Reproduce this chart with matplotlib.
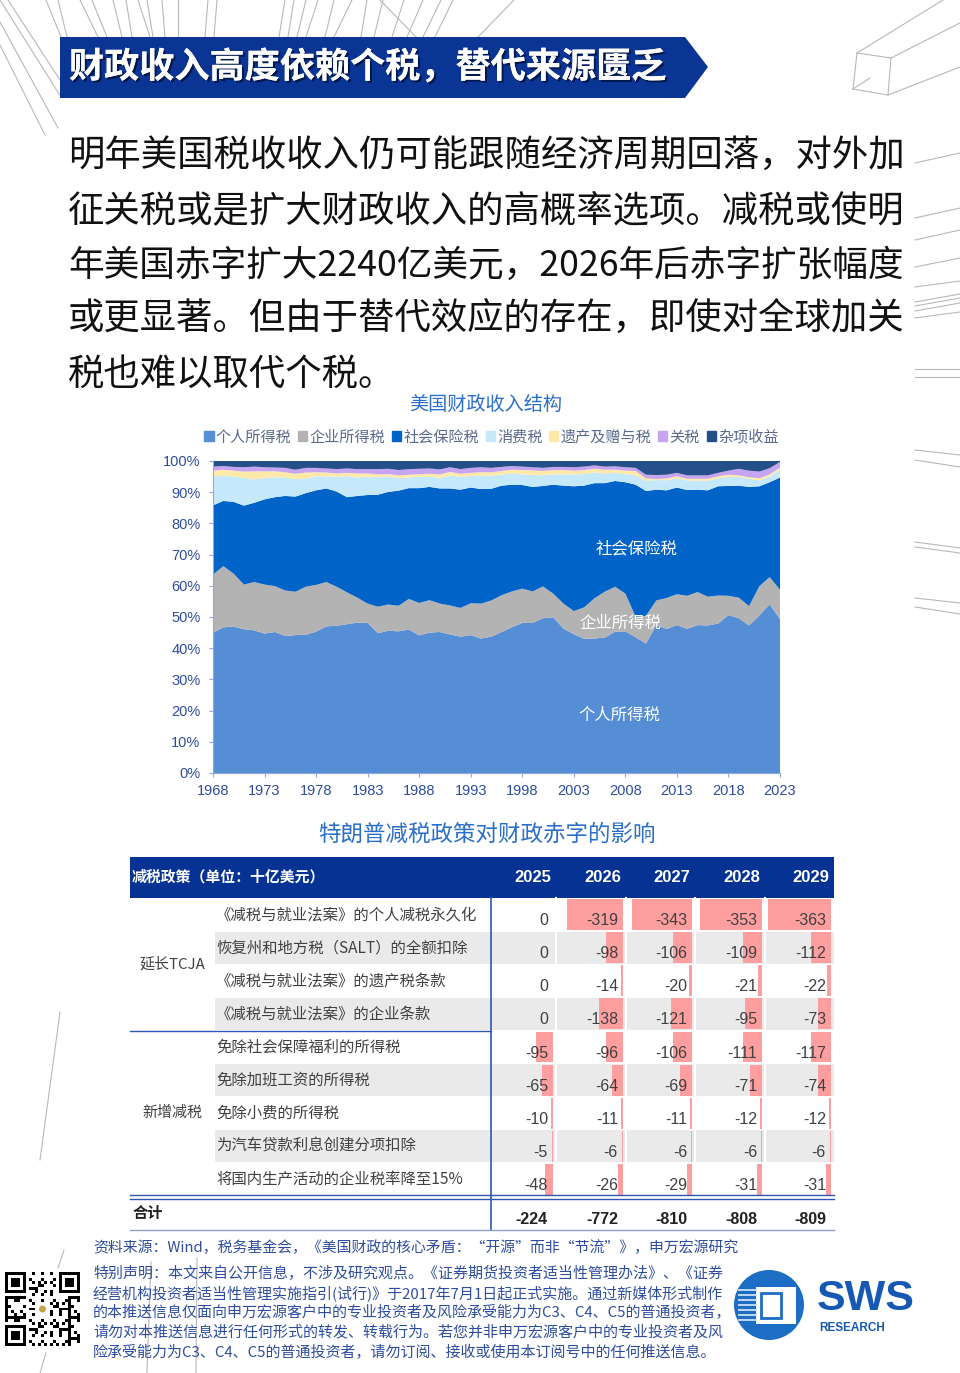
import numpy as np
import matplotlib
matplotlib.use('Agg')
import matplotlib.pyplot as plt
import matplotlib.patches as mpatches
import matplotlib.patheffects as pe
from matplotlib import font_manager

plt.rcParams['font.family'] = ['Noto Sans CJK SC', 'DejaVu Sans']

_names = {f.name for f in font_manager.fontManager.ttflist}
NUM_FONT = 'Liberation Sans Narrow' if 'Liberation Sans Narrow' in _names else 'Liberation Sans'
NUM_SIZE = 14 if NUM_FONT == 'Liberation Sans Narrow' else 11.5

# ---------------- chart data: share of federal receipts (%) ----------------
years = np.arange(1968, 2024)
individual = [44.9, 46.7, 46.9, 46.1, 45.7, 44.7, 45.2, 43.9, 44.2, 44.3,
              45.3, 47.0, 47.2, 47.7, 48.2, 48.1, 44.8, 45.6, 45.4, 46.0,
              44.1, 45.0, 45.2, 44.4, 43.7, 44.2, 43.1, 43.7, 45.2, 46.7,
              48.1, 48.1, 49.6, 49.9, 46.3, 44.5, 43.0, 43.1, 43.4, 45.3,
              45.4, 43.5, 41.5, 47.4, 46.2, 47.4, 46.2, 47.4, 47.3, 47.9,
              50.6, 49.6, 47.3, 50.5, 54.1, 49.3]
corporate = [18.7, 19.6, 17.0, 14.3, 15.5, 15.7, 14.7, 14.6, 13.9, 15.4,
             15.0, 14.2, 12.5, 10.2, 8.0, 6.2, 8.5, 8.4, 8.2, 9.8,
             10.4, 10.4, 9.1, 9.3, 9.2, 10.2, 11.2, 11.6, 11.8, 11.5,
             11.0, 10.1, 10.2, 7.6, 8.0, 7.4, 10.1, 12.9, 14.7, 14.4,
             12.1, 6.6, 8.9, 7.9, 9.9, 9.9, 10.6, 10.6, 9.2, 9.0,
             6.2, 6.6, 6.2, 9.4, 8.7, 9.4]
social = [22.2, 20.9, 23.0, 25.3, 25.4, 27.3, 28.5, 30.3, 30.5, 30.0,
          30.3, 30.0, 30.5, 30.5, 32.6, 34.8, 35.9, 36.1, 36.9, 35.5,
          36.8, 36.3, 36.9, 37.5, 37.9, 37.1, 36.7, 35.8, 35.1, 34.2,
          33.2, 33.5, 32.2, 34.9, 37.8, 40.0, 39.0, 36.9, 34.8, 33.9,
          35.7, 42.3, 40.0, 35.5, 34.5, 34.2, 33.9, 32.8, 34.1, 35.0,
          35.2, 35.9, 38.2, 32.0, 30.4, 36.0]
excise = [9.2, 8.1, 8.1, 8.9, 7.5, 6.9, 6.4, 5.9, 5.6, 4.6,
          4.5, 3.9, 4.7, 6.8, 5.9, 5.9, 5.6, 4.9, 4.0, 3.4,
          3.7, 3.3, 3.4, 4.2, 4.1, 3.7, 4.3, 4.2, 3.6, 3.6,
          3.4, 3.8, 3.4, 3.3, 3.6, 3.8, 3.7, 3.4, 3.1, 2.6,
          2.6, 3.0, 3.2, 3.1, 3.2, 3.0, 3.0, 2.9, 3.1, 2.5,
          2.9, 2.8, 2.6, 1.9, 1.8, 2.5]
estate = [1.9, 1.9, 1.9, 2.0, 2.6, 2.1, 1.9, 1.7, 1.7, 2.0,
          1.3, 1.2, 1.1, 1.0, 1.3, 1.0, 0.9, 0.8, 0.9, 0.9,
          0.8, 0.9, 1.1, 1.1, 1.0, 1.0, 1.1, 1.1, 1.1, 1.2,
          1.4, 1.5, 1.4, 1.4, 1.4, 1.2, 1.3, 1.2, 1.2, 1.0,
          1.1, 1.4, 0.8, 0.3, 0.6, 0.6, 0.6, 0.6, 0.6, 0.7,
          0.7, 0.5, 0.5, 0.7, 0.7, 0.7]
customs = [1.3, 1.2, 1.2, 1.4, 1.5, 1.3, 1.2, 1.4, 1.3, 1.5,
           1.4, 1.3, 1.4, 1.4, 1.4, 1.4, 1.7, 1.7, 1.7, 1.8,
           1.7, 1.7, 1.6, 1.5, 1.5, 1.6, 1.6, 1.4, 1.3, 1.2,
           1.1, 1.0, 1.0, 1.0, 1.0, 1.1, 1.1, 1.1, 1.0, 1.1,
           1.1, 1.0, 1.2, 1.3, 1.2, 1.1, 1.1, 1.1, 1.1, 1.1,
           1.3, 2.1, 2.1, 2.1, 2.0, 1.8]
misc = [1.8, 1.6, 1.9, 2.0, 1.8, 2.0, 2.1, 2.2, 2.8, 2.2,
        2.2, 2.4, 2.6, 2.4, 2.6, 2.6, 2.6, 2.5, 2.9, 2.6,
        2.5, 2.4, 2.7, 2.0, 2.6, 2.2, 2.0, 2.2, 1.9, 1.6,
        1.8, 2.0, 2.2, 1.9, 1.9, 2.0, 1.8, 1.4, 1.8, 1.7,
        2.0, 2.2, 4.4, 4.5, 4.4, 3.8, 4.6, 4.6, 4.6, 3.8,
        3.1, 2.5, 3.1, 3.4, 2.3, 0.3]
series_names = ['个人所得税', '企业所得税', '社会保险税', '消费税', '遗产及赠与税', '关税', '杂项收益']
series_colors = ['#558ED5', '#B3B3B3', '#0063C8', '#C5E9FB', '#FFE9A8', '#C7A5F3', '#254F88']

# ---------------- table data (十亿美元) ----------------
policy_years = ['2025', '2026', '2027', '2028', '2029']
row_labels = ['《减税与就业法案》的个人减税永久化',
              '恢复州和地方税（SALT）的全额扣除',
              '《减税与就业法案》的遗产税条款',
              '《减税与就业法案》的企业条款',
              '免除社会保障福利的所得税',
              '免除加班工资的所得税',
              '免除小费的所得税',
              '为汽车贷款利息创建分项扣除',
              '将国内生产活动的企业税率降至15%']
cut_2025 = [0, 0, 0, 0, -95, -65, -10, -5, -48]
cut_2026 = [-319, -98, -14, -138, -96, -64, -11, -6, -26]
cut_2027 = [-343, -106, -20, -121, -106, -69, -11, -6, -29]
cut_2028 = [-353, -109, -21, -95, -111, -71, -12, -6, -31]
cut_2029 = [-363, -112, -22, -73, -117, -74, -12, -6, -31]
totals = [-224, -772, -810, -808, -809]
cuts = [cut_2025, cut_2026, cut_2027, cut_2028, cut_2029]

body_lines = ['明年美国税收收入仍可能跟随经济周期回落，对外加',
              '征关税或是扩大财政收入的高概率选项。减税或使明',
              '年美国赤字扩大2240亿美元，2026年后赤字扩张幅度',
              '或更显著。但由于替代效应的存在，即使对全球加关',
              '税也难以取代个税。']
body_sizes = [26.2, 26.2, 25.7, 26.2, 26.2]
footer_lines = ['特别声明：本文来自公开信息，不涉及研究观点。《证券期货投资者适当性管理办法》、《证券',
                '经营机构投资者适当性管理实施指引(试行)》于2017年7月1日起正式实施。通过新媒体形式制作',
                '的本推送信息仅面向申万宏源客户中的专业投资者及风险承受能力为C3、C4、C5的普通投资者，',
                '请勿对本推送信息进行任何形式的转发、转载行为。若您并非申万宏源客户中的专业投资者及风',
                '险承受能力为C3、C4、C5的普通投资者，请勿订阅、接收或使用本订阅号中的任何推送信息。']

W, H = 960, 1373
fig = plt.figure(figsize=(9.6, 13.73), dpi=100)


def box(l, t, r, b):
    return [l / W, 1 - b / H, (r - l) / W, (b - t) / H]


bg = fig.add_axes([0, 0, 1, 1])
bg.set_xlim(0, W)
bg.set_ylim(H, 0)
bg.axis('off')

# decorative sketch lines
deco = [((0, 22), (58, 128)), ((0, 0), (61, 97)), ((8, 0), (60, 80)), ((0, 45), (45, 135)),
        ((46, 0), (61, 37)), ((58, 0), (67, 37)), ((80, 0), (98, 37)), ((92, 0), (107, 37)),
        ((113, 0), (122, 37)), ((126, 0), (132, 37)), ((138, 0), (150, 37)), ((147, 0), (153, 37)),
        ((162, 0), (165, 37)), ((178, 0), (178, 37)), ((208, 0), (205, 37)), ((217, 0), (214, 37)),
        ((285, 0), (279, 37)), ((294, 0), (288, 37)), ((306, 0), (297, 37)), ((318, 0), (306, 37)),
        ((334, 0), (325, 37)), ((352, 0), (334, 37)), ((367, 0), (361, 37)), ((383, 0), (374, 37)),
        ((380, 0), (416, 37)), ((404, 0), (392, 37)), ((423, 0), (407, 37)), ((441, 0), (423, 37)),
        ((453, 0), (435, 37)), ((514, 0), (478, 37)),
        ((857, 53), (891, 58)), ((891, 58), (888, 95)), ((888, 95), (853, 89)), ((853, 89), (857, 53)),
        ((857, 53), (943, 0)), ((891, 58), (960, 23)), ((888, 95), (960, 67)), ((853, 89), (870, 78)),
        ((915, 163), (960, 153)), ((915, 218), (960, 208)), ((915, 240), (960, 230)),
        ((915, 267), (960, 258)), ((915, 287), (960, 281)), ((915, 302), (960, 294)),
        ((915, 306), (960, 298)), ((915, 311), (960, 303)), ((915, 318), (960, 312)),
        ((915, 369), (960, 369)), ((915, 377), (960, 377)), ((915, 450), (960, 455)),
        ((915, 460), (960, 467)), ((915, 542), (960, 548)), ((915, 547), (960, 553)),
        ((915, 598), (960, 603)), ((915, 607), (960, 614)),
        ((60, 1012), (40, 1160)), ((64, 1250), (58, 1268)), ((46, 1353), (40, 1373)),
        ((151, 1262), (147, 1373)), ((197, 1258), (196, 1373))]
for (x0, y0), (x1, y1) in deco:
    bg.plot([x0, x1], [y0, y1], color='#b8b8b8', lw=0.8, zorder=1)

# header banner
bg.add_patch(mpatches.Polygon([(60, 37), (685, 37), (708, 67), (685, 98), (60, 98)],
                              closed=True, fc='#0B3595', ec='none', zorder=3))
bg.text(69, 67, '财政收入高度依赖个税，替代来源匮乏', fontsize=25.3, weight='bold', color='white',
        ha='left', va='center', zorder=4,
        path_effects=[pe.withSimplePatchShadow(offset=(1.5, -1.5), shadow_rgbFace='#00103a', alpha=0.8),
                      pe.Normal()])

for k, line in enumerate(body_lines):
    bg.text(68, 156 + k * 54.75, line, fontsize=body_sizes[k], color='#111111', ha='left',
            va='center', zorder=4)

# ---------------- stacked area chart ----------------
bg.text(486, 404, '美国财政收入结构', fontsize=13.8, color='#2A6FC9', ha='center', va='center')
ax = fig.add_axes(box(213, 461, 780, 773))
ax.stackplot(years, individual, corporate, social, excise, estate, customs, misc,
             colors=series_colors, linewidth=0, edgecolor='none')
ax.set_xlim(1968, 2023)
ax.set_ylim(0, 100)
ax.set_yticks(range(0, 101, 10))
ax.set_yticklabels([f'{v}%' for v in range(0, 101, 10)])
ax.set_xticks(range(1968, 2024, 5))
ax.tick_params(axis='both', colors='#8EA9DB', labelcolor='#2E4D9F', length=3, width=0.8,
               labelsize=10.5, direction='out')
ax.tick_params(axis='y', pad=6)
ax.tick_params(axis='x', pad=5)
for lab in ax.get_xticklabels() + ax.get_yticklabels():
    lab.set_family('Liberation Sans')
for s in ['top', 'right']:
    ax.spines[s].set_visible(False)
for s in ['left', 'bottom']:
    ax.spines[s].set_color('#8EA9DB')
    ax.spines[s].set_linewidth(0.8)
ax.text(2009.1, 71.8, '社会保险税', color='white', fontsize=11.8, ha='center', va='center')
ax.text(2007.5, 48.0, '企业所得税', color='white', fontsize=11.8, ha='center', va='center')
ax.text(2007.4, 18.3, '个人所得税', color='white', fontsize=11.8, ha='center', va='center')

handles = [mpatches.Patch(color=c, label=n) for n, c in zip(series_names, series_colors)]
fig.legend(handles=handles, ncol=7, loc='center', bbox_to_anchor=(491.5 / W, 1 - 437 / H),
           frameon=False, fontsize=10.9, handlelength=0.6, handleheight=0.6, handletextpad=0.15,
           columnspacing=0.45, labelcolor='#5A6A8E', borderaxespad=0)

# ---------------- table ----------------
bg.text(487, 834, '特朗普减税政策对财政赤字的影响', fontsize=16.2, color='#2A6FC9', ha='center', va='center')
ROW_TOP, ROW_BOT = 898, 1196
ROW_H = (ROW_BOT - ROW_TOP) / len(row_labels)
col_right = [553, 623, 692, 762, 831]
COL_W = 69

bg.add_patch(mpatches.Rectangle((130, 857), 834 - 130, 41, fc='#063393', ec='none', zorder=2))
for i in range(len(row_labels)):
    if i % 2 == 1:
        bg.add_patch(mpatches.Rectangle((215, ROW_TOP + i * ROW_H + 0.5), 834 - 215, ROW_H - 1,
                                        fc='#EAEAEA', ec='none', zorder=2))
for xr in col_right[:-1]:
    bg.plot([xr + 2.5, xr + 2.5], [ROW_TOP, ROW_BOT], color='white', lw=1.5, zorder=2.5)

for j, vals in enumerate(cuts):
    cax = fig.add_axes(box(col_right[j] - COL_W, ROW_TOP, col_right[j], ROW_BOT))
    cax.barh(np.arange(len(vals)), vals, height=0.93, color='#FF9E9E', left=0)
    cax.set_xlim(-395, 0)
    cax.set_ylim(len(vals) - 0.5, -0.5)
    cax.axis('off')

ov = fig.add_axes([0, 0, 1, 1])
ov.set_xlim(0, W)
ov.set_ylim(H, 0)
ov.axis('off')

ov.text(132, 877, '减税政策（单位：十亿美元）', fontsize=10.7, weight='bold', color='white',
        ha='left', va='center')
for j, yr in enumerate(policy_years):
    ov.text(col_right[j] - 20, 877, yr, fontsize=12, weight='bold', color='white',
            family='Liberation Sans', ha='center', va='center')

for i, lab in enumerate(row_labels):
    cy = ROW_TOP + (i + 0.5) * ROW_H
    ov.text(216, cy, lab, fontsize=11.1, color='#404040', ha='left', va='center')
    for j, vals in enumerate(cuts):
        ov.text(col_right[j] - 5, cy + 6, str(vals[i]), family=NUM_FONT, fontsize=NUM_SIZE,
                color='#404040', ha='right', va='center')
ov.text(172, 964, '延长TCJA', fontsize=10.8, color='#404040', ha='center', va='center')
ov.text(172, 1113, '新增减税', fontsize=10.8, color='#404040', ha='center', va='center')

ov.text(133, 1213, '合计', fontsize=11, weight='bold', color='#222222', ha='left', va='center')
for j, t in enumerate(totals):
    ov.text(col_right[j] - 5, 1219, str(t), family=NUM_FONT, fontsize=NUM_SIZE, weight='bold',
            color='#222222', ha='right', va='center')

ov.plot([491, 491], [ROW_TOP, 1230], color='#2F55B5', lw=1.2)
ov.plot([130, 491], [1031, 1031], color='#2F55B5', lw=1.0)
ov.plot([130, 834], [1195, 1195], color='#2F55B5', lw=1.0)
ov.plot([130, 834], [1198.5, 1198.5], color='#2F55B5', lw=1.0)
ov.plot([130, 834], [1230, 1230], color='#8EA0D0', lw=1.0)

# ---------------- footer ----------------
ov.text(93, 1248, '资料来源：Wind，税务基金会，《美国财政的核心矛盾：“开源”而非“节流”》，申万宏源研究',
        fontsize=10.7, color='#2E4D9F', ha='left', va='center')
for k, line in enumerate(footer_lines):
    ov.text(93, 1273 + k * 19.75, line, fontsize=10.8, color='#2E4D9F', ha='left', va='center')

# QR code style block
n = 25
ii, jj = np.meshgrid(np.arange(n), np.arange(n), indexing='ij')
qr = (((ii * 3 + jj * 5 + (ii * jj) % 7) % 3) == 0).astype(float)
finder = np.ones((7, 7))
finder[1:6, 1:6] = 0
finder[2:5, 2:5] = 1
for r0, c0 in [(0, 0), (0, n - 7), (n - 7, 0)]:
    qr[max(r0 - 1, 0):r0 + 8, max(c0 - 1, 0):c0 + 8] = 0
    qr[r0:r0 + 7, c0:c0 + 7] = finder
qr[10:15, 10:15] = 0
bg.imshow(qr, cmap='Greys', vmin=0, vmax=1, extent=(5, 80, 1346, 1272), interpolation='nearest',
          aspect='auto', zorder=3)
bg.add_patch(mpatches.Circle((42.5, 1309), 3.5, fc='#C9A24A', ec='none', zorder=4))
bg.set_xlim(0, W)
bg.set_ylim(H, 0)

# SWS logo
ov.add_patch(mpatches.Circle((769, 1305), 35, fc='#1C6EC4', ec='none'))
ov.add_patch(mpatches.Rectangle((756, 1287), 40, 37, fc='white', ec='none'))
for yy in np.arange(1290, 1322, 5):
    ov.plot([739, 756], [yy, yy], color='#BFD8F2', lw=1.4)
ov.add_patch(mpatches.Rectangle((761, 1293), 20, 25, fc='none', ec='#1C6EC4', lw=2))
ov.text(866, 1299, 'SWS', family='Liberation Sans', weight='bold', fontsize=31, color='#1659B5',
        ha='center', va='center')
ov.text(852, 1328, 'RESEARCH', family='Liberation Sans', weight='bold', fontsize=8.5,
        color='#1659B5', ha='center', va='center')

fig.savefig('out.png', dpi=100)
